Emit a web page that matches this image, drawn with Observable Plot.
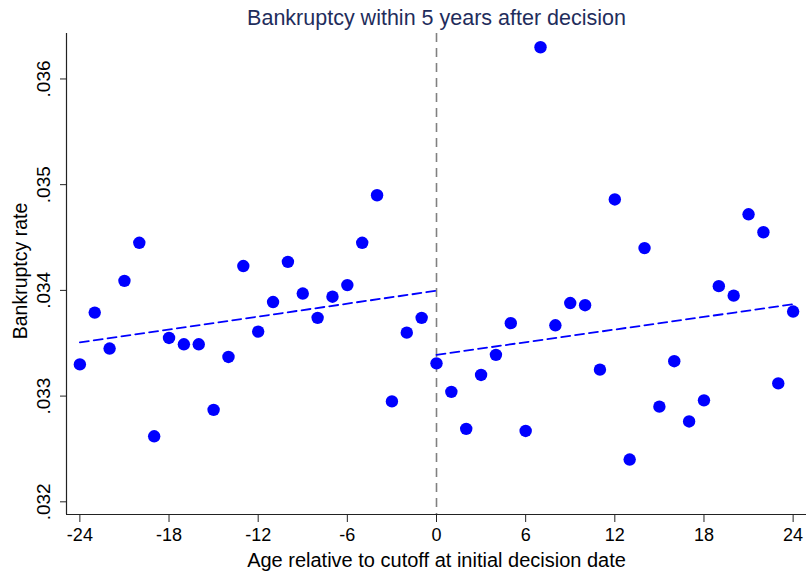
<!DOCTYPE html>
<html>
<head>
<meta charset="utf-8">
<script src="https://cdn.jsdelivr.net/npm/d3@7"></script>
<script src="https://cdn.jsdelivr.net/npm/@observablehq/plot@0.6"></script>
<style>
  html, body { margin: 0; padding: 0; background: #fff; }
  #chart svg { display: block; }
</style>
</head>
<body>
<div id="chart"></div>
<script>
// ---- data ----
const ages = [-24,-23,-22,-21,-20,-19,-18,-17,-16,-15,-14,-13,-12,-11,-10,-9,-8,-7,-6,-5,-4,-3,-2,-1,
              0,1,2,3,4,5,6,7,8,9,10,11,12,13,14,15,16,17,18,19,20,21,22,23,24];
const rates = [0.03330,0.03379,0.03345,0.03409,0.03445,0.03262,0.03355,0.03349,0.03349,0.03287,0.03337,0.03423,0.03361,0.03389,0.03427,0.03397,0.03374,0.03394,0.03405,0.03445,0.03490,0.03295,0.03360,0.03374,
               0.03331,0.03304,0.03269,0.03320,0.03339,0.03369,0.03267,0.03630,0.03367,0.03388,0.03386,0.03325,0.03486,0.03240,0.03440,0.03290,0.03333,0.03276,0.03296,0.03404,0.03395,0.03472,0.03455,0.03312,0.03380];
const xTicks = [-24,-18,-12,-6,0,6,12,18,24];
const yTicks = [0.032,0.033,0.034,0.035,0.036];
const cutoff = 0;
const titleText = "Bankruptcy within 5 years after decision";
const xTitle = "Age relative to cutoff at initial decision date";
const yTitle = "Bankruptcy rate";

// ---- build table ----
const points = ages.map((a, i) => ({age: a, rate: rates[i]}));
const left = points.filter(d => d.age < cutoff);
const right = points.filter(d => d.age >= cutoff);

function fitLine(data, x0, x1) {
  const mx = d3.mean(data, d => d.age), my = d3.mean(data, d => d.rate);
  const sxy = d3.sum(data, d => (d.age - mx) * (d.rate - my));
  const sxx = d3.sum(data, d => (d.age - mx) ** 2);
  const b = sxy / sxx, a = my - b * mx;
  return [{age: x0, rate: a + b * x0}, {age: x1, rate: a + b * x1}];
}
const leftFit = fitLine(left, d3.min(left, d => d.age), cutoff);
const rightFit = fitLine(right, cutoff, d3.max(right, d => d.age));

const xDomain = [-24.9, 24.9];
const yDomain = [0.03188, 0.03643];
const font = "'Liberation Sans', Arial, Helvetica, sans-serif";

const chart = Plot.plot({
  width: 806,
  height: 571,
  marginLeft: 66,
  marginTop: 33,
  marginBottom: 57,
  marginRight: 0,
  style: {fontFamily: font, fontSize: "19px", color: "#000", background: "#fff"},
  x: {domain: xDomain, axis: null},
  y: {domain: yDomain, axis: null},
  marks: [
    Plot.ruleX([cutoff], {stroke: "#808080", strokeWidth: 1.6, strokeDasharray: "9,6"}),
    Plot.axisX(xTicks, {tickSize: 8, tickPadding: 6, fontSize: 18, tickFormat: d => String(d), label: null, stroke: "#222", fill: "#000"}),
    Plot.axisY(yTicks, {tickSize: 6, tickFormat: () => "", label: null, stroke: "#222"}),
    Plot.text(yTicks, {y: d => d, frameAnchor: "left", textAnchor: "middle", lineAnchor: "middle", dx: -23, rotate: -90, fontSize: 19, fill: "#000",
      text: d => d3.format(".3f")(d).replace(/^0/, "")}),
    Plot.ruleX([xDomain[0]], {stroke: "#222", strokeWidth: 1.2}),
    Plot.ruleY([yDomain[0]], {stroke: "#222", strokeWidth: 1.2}),
    Plot.line(leftFit, {x: "age", y: "rate", stroke: "#0000ff", strokeWidth: 1.8, strokeDasharray: "9,5"}),
    Plot.line(rightFit, {x: "age", y: "rate", stroke: "#0000ff", strokeWidth: 1.8, strokeDasharray: "9,5"}),
    Plot.dot(points, {x: "age", y: "rate", r: 6.2, fill: "#0000ff", stroke: null}),
    Plot.text([titleText], {frameAnchor: "top", textAnchor: "middle", lineAnchor: "middle", dy: -15, fontSize: 21.5, fill: "#1f2d5c"}),
    Plot.text([xTitle], {frameAnchor: "bottom", textAnchor: "middle", lineAnchor: "middle", dy: 46.5, fontSize: 20, fill: "#000"}),
    Plot.text([yTitle], {frameAnchor: "left", textAnchor: "middle", lineAnchor: "middle", dx: -46, dy: -3, rotate: -90, fontSize: 19.5, fill: "#000"})
  ]
});
document.getElementById("chart").appendChild(chart);
</script>
</body>
</html>
